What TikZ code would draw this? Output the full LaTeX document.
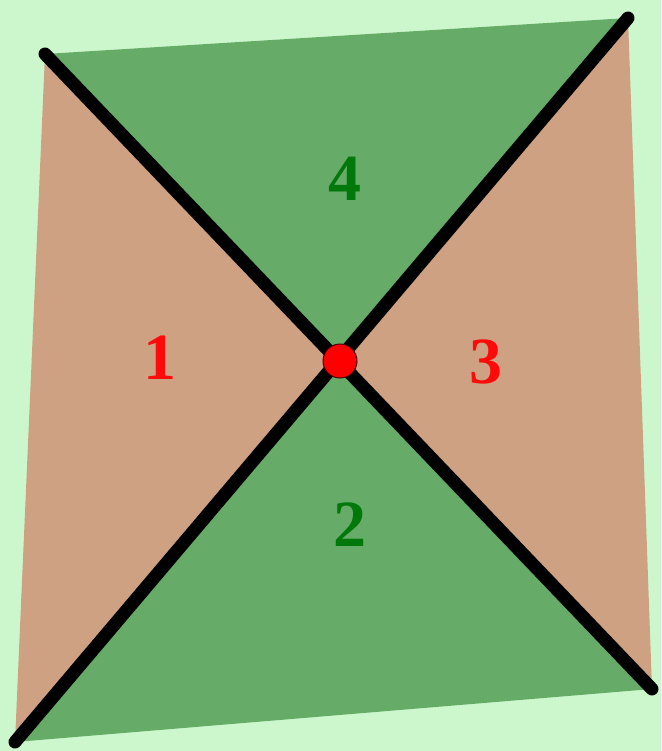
\documentclass[tikz,border=0pt]{standalone}
\usepackage{fontspec}
\setmainfont{Liberation Serif}
\definecolor{bgc}{RGB}{204,247,204}
\definecolor{greenf}{RGB}{102,172,104}
\definecolor{tanf}{RGB}{205,161,130}
\definecolor{redt}{RGB}{255,10,10}
\definecolor{greent}{RGB}{0,120,10}
\tikzset{
  diag/.style={line width=13pt, line cap=round, black},
  num/.style={font=\fontsize{66}{66}\selectfont\bfseries},
}
\begin{document}
\begin{tikzpicture}[x=1pt,y=-1pt]
\fill[bgc] (0,0) rectangle (661,751);
\useasboundingbox (0,0) rectangle (661,751);
\coordinate (TL) at (45,54);
\coordinate (TR) at (628,18);
\coordinate (BR) at (652,689);
\coordinate (BL) at (15,742);
\coordinate (C) at (340,361);
\fill[tanf] (TL) -- (C) -- (BL) -- cycle;
\fill[tanf] (TR) -- (C) -- (BR) -- cycle;
\fill[greenf] (TL) -- (TR) -- (C) -- cycle;
\fill[greenf] (BL) -- (BR) -- (C) -- cycle;
\draw[diag] (TL) -- (BR);
\draw[diag] (TR) -- (BL);
\node[circle, fill=red, draw=black!70!red, line width=1pt, minimum size=34pt, inner sep=0pt] (dot) at (C) {};
\node[num, text=redt] (n1) at (160,358) {1};
\node[num, text=redt] (n3) at (486,362) {3};
\node[num, text=greent] (n4) at (345,179) {4};
\node[num, text=greent] (n2) at (350,525) {2};
\end{tikzpicture}
\end{document}
